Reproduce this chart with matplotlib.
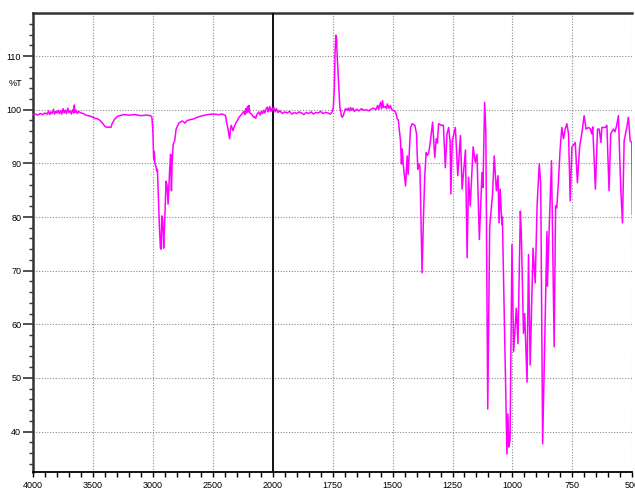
import numpy as np
import matplotlib
matplotlib.use("Agg")
import matplotlib.pyplot as plt
from matplotlib.ticker import FixedLocator

plt.rcParams["font.family"] = ["Liberation Sans", "DejaVu Sans"]

# (wavenumber cm-1, %T)
region_4000_2000 = [
    (4000, 99.1), (3980, 99.2), (3960, 99.0), (3940, 99.3), (3920, 99.1), (3900, 99.4),
    (3880, 99.2), (3870, 99.8), (3860, 99.1), (3850, 99.6), (3840, 99.3), (3830, 100.1),
    (3820, 99.2), (3810, 99.7), (3800, 99.4), (3790, 99.9), (3780, 99.3), (3770, 99.8),
    (3760, 99.2), (3750, 100.2), (3740, 99.4), (3730, 99.9), (3720, 99.3), (3710, 100.3),
    (3700, 99.5), (3690, 99.8), (3680, 99.2), (3670, 100.0), (3660, 99.4), (3655, 100.9),
    (3650, 99.5), (3640, 99.9), (3630, 99.3), (3620, 99.7), (3600, 99.4), (3580, 99.3),
    (3560, 99.0), (3540, 98.9), (3520, 98.8), (3500, 98.6), (3480, 98.4), (3460, 98.3),
    (3440, 98.0), (3420, 97.5), (3400, 96.9), (3380, 96.7), (3360, 96.8), (3350, 96.7),
    (3340, 97.4), (3320, 98.2), (3300, 98.7), (3280, 98.9), (3260, 99.0), (3240, 99.1),
    (3200, 99.0), (3150, 99.1), (3100, 98.9), (3050, 99.0), (3020, 98.9), (3008, 98.6),
    (3000, 96.0), (2993, 90.8), (2988, 92.2), (2983, 90.0), (2975, 89.5), (2968, 88.6),
    (2962, 88.9), (2953, 83.0), (2945, 78.0), (2937, 74.2), (2931, 74.0), (2926, 80.2),
    (2920, 80.0), (2914, 77.0), (2910, 74.2), (2900, 80.0), (2890, 86.7), (2882, 86.0),
    (2873, 82.4), (2864, 87.0), (2859, 89.2), (2852, 91.7), (2845, 84.9), (2840, 90.0),
    (2830, 93.6), (2818, 94.2), (2806, 96.4), (2784, 97.5), (2756, 97.9), (2740, 97.7),
    (2734, 97.5), (2714, 98.0), (2680, 98.2), (2659, 98.3), (2630, 98.6), (2603, 98.8),
    (2547, 99.1), (2500, 99.2), (2450, 99.1), (2420, 99.2), (2400, 99.0), (2393, 98.9),
    (2385, 97.6), (2379, 97.1), (2370, 96.0), (2360, 94.6), (2352, 96.5), (2346, 97.1),
    (2332, 96.1), (2322, 96.8), (2310, 97.4), (2295, 98.0), (2282, 98.6), (2265, 99.0),
    (2254, 99.3), (2240, 99.7), (2232, 99.1), (2225, 100.2), (2218, 99.4), (2210, 100.6),
    (2204, 99.6), (2198, 100.8), (2192, 99.5), (2184, 99.3), (2170, 99.0), (2160, 98.6),
    (2150, 98.7), (2142, 98.4), (2130, 99.2), (2117, 99.6), (2105, 99.0), (2095, 99.7),
    (2085, 99.3), (2075, 99.9), (2065, 99.4), (2055, 100.2), (2044, 100.5), (2038, 99.6),
    (2033, 99.8), (2025, 100.6), (2015, 99.7), (2005, 100.3), (2000, 100.0),
]

region_2000_1480 = [
    (1995, 100.4), (1990, 99.6), (1985, 100.2), (1978, 99.5), (1970, 99.8), (1960, 99.3),
    (1950, 99.6), (1940, 99.4), (1930, 99.7), (1920, 99.2), (1910, 99.5), (1900, 99.3),
    (1890, 99.6), (1880, 99.4), (1870, 99.1), (1860, 99.5), (1850, 99.3), (1840, 99.6),
    (1830, 99.2), (1820, 99.5), (1810, 99.4), (1800, 99.7), (1790, 99.3), (1780, 99.5),
    (1770, 99.4), (1760, 99.2), (1752, 99.6), (1747, 100.5), (1743, 104.0), (1740, 110.5),
    (1737, 113.9), (1734, 113.5), (1731, 110.0), (1728, 107.4), (1724, 104.0), (1720, 100.5),
    (1717, 99.9), (1713, 98.8), (1710, 98.6), (1705, 99.0), (1700, 99.8), (1696, 100.2),
    (1690, 99.9), (1685, 100.3), (1680, 99.8), (1675, 100.4), (1670, 99.9), (1665, 100.3),
    (1660, 99.7), (1650, 100.1), (1640, 99.8), (1630, 100.2), (1620, 99.9), (1610, 100.0),
    (1600, 99.8), (1590, 100.1), (1580, 100.3), (1570, 100.0), (1562, 100.8), (1558, 100.1),
    (1550, 101.4), (1546, 100.2), (1542, 101.7), (1538, 100.4), (1530, 100.6), (1525, 100.2),
    (1522, 101.1), (1515, 100.3), (1509, 100.8), (1505, 100.2), (1501, 99.9), (1495, 99.9),
    (1487, 99.5), (1481, 98.4),
]

region_1480_500 = [
    (1476, 98.0), (1467, 94.2), (1463, 89.9), (1460, 92.7), (1456, 90.0), (1449, 87.1),
    (1446, 85.8), (1439, 91.4), (1435, 88.0), (1425, 96.7), (1418, 97.4), (1407, 97.1),
    (1400, 95.5), (1395, 88.9), (1391, 89.9), (1386, 89.5), (1377, 69.6), (1371, 80.0),
    (1366, 87.4), (1360, 92.0), (1355, 91.5), (1349, 92.0), (1342, 94.2), (1333, 97.7),
    (1324, 91.1), (1318, 94.6), (1313, 93.8), (1308, 97.4), (1296, 97.1), (1288, 97.1),
    (1280, 89.2), (1273, 95.5), (1266, 96.7), (1260, 94.0), (1257, 84.3), (1251, 94.2),
    (1238, 96.7), (1228, 87.7), (1217, 95.2), (1210, 85.2), (1196, 92.5), (1189, 72.4),
    (1183, 87.4), (1176, 82.1), (1164, 93.1), (1155, 90.2), (1148, 91.7), (1138, 75.8),
    (1127, 88.3), (1123, 85.5), (1116, 101.4), (1111, 96.0), (1103, 44.2), (1095, 78.0),
    (1083, 84.3), (1076, 91.4), (1067, 84.9), (1060, 87.7), (1056, 78.9), (1051, 85.2),
    (1044, 78.6), (1042, 80.0), (1026, 43.0), (1023, 35.8), (1019, 43.3), (1015, 37.1),
    (1010, 38.5), (1002, 74.9), (995, 54.9), (984, 63.0), (977, 56.4), (967, 81.1),
    (963, 77.0), (954, 58.3), (949, 62.0), (939, 49.2), (933, 73.0), (926, 52.4),
    (914, 74.2), (905, 67.7), (897, 82.4), (888, 89.9), (882, 86.1), (874, 37.7),
    (856, 77.3), (854, 67.1), (846, 78.9), (837, 90.5), (826, 55.8), (820, 82.1),
    (815, 81.7), (808, 86.7), (801, 92.7), (794, 96.7), (787, 94.6), (780, 96.4),
    (773, 97.4), (766, 95.5), (759, 83.0), (752, 93.0), (738, 93.9), (729, 86.4),
    (720, 93.0), (710, 95.8), (701, 98.9), (693, 96.4), (683, 96.7), (676, 96.5),
    (669, 95.5), (665, 96.8), (654, 85.2), (645, 96.4), (638, 96.4), (631, 93.9),
    (627, 96.7), (613, 96.7), (606, 97.1), (597, 84.9), (590, 95.5), (579, 96.4),
    (572, 95.9), (565, 97.1), (558, 98.9), (548, 85.2), (541, 78.9), (534, 94.2),
    (523, 96.7), (516, 98.6), (509, 94.2), (502, 93.9), (500, 80.5),
]

x_major = [4000, 3500, 3000, 2500, 2000, 1750, 1500, 1250, 1000, 750, 500]
y_major = [40, 50, 60, 70, 80, 90, 100, 110]

points = region_4000_2000 + region_2000_1480 + region_1480_500
wn = np.array([p[0] for p in points], dtype=float)
pct = np.array([p[1] for p in points], dtype=float)


# x scale is doubled below 2000 cm-1 (usual IR chart break)
def fwd(x):
    x = np.asarray(x, dtype=float)
    return np.where(x >= 2000, x, 2 * x - 2000)


def inv(y):
    y = np.asarray(y, dtype=float)
    return np.where(y >= 2000, y, (y + 2000) / 2)


fig = plt.figure(figsize=(6.35, 4.9), dpi=100)
ax = fig.add_axes([33 / 635, 1 - 472.3 / 490, (632.3 - 33) / 635, (472.3 - 12.7) / 490])
ax.set_xscale("function", functions=(fwd, inv))
ax.set_xlim(4000, 500)
ax.set_ylim(32.4, 118.1)

ax.xaxis.set_major_locator(FixedLocator(x_major))
x_minor = list(range(3900, 2000, -100)) + list(range(1950, 500, -50))
ax.xaxis.set_minor_locator(FixedLocator(x_minor))
ax.set_xticklabels([str(v) for v in x_major])
ax.yaxis.set_major_locator(FixedLocator(y_major))
ax.yaxis.set_minor_locator(FixedLocator(list(range(34, 118, 2))))

ax.grid(True, which="major", linestyle=(0, (1, 1.5)), color="#8a8a8a", linewidth=0.8)
ax.axvline(2000, color="black", linewidth=1.3, zorder=3)

ax.plot(wn, pct, color="#ff00ff", linewidth=1.1, zorder=4)

ax.tick_params(axis="x", which="both", direction="out", length=3.5, width=1.0,
               labelsize=6.5, pad=2.5, color="black")
ax.tick_params(axis="y", which="major", direction="out", length=7, width=1.2,
               labelsize=6.5, pad=1.5, color="#333333")
ax.tick_params(axis="y", which="minor", direction="out", length=3, width=1.0, color="#333333")

ax.spines["top"].set_linewidth(1.8)
ax.spines["top"].set_color("#333333")
ax.spines["left"].set_linewidth(1.8)
ax.spines["left"].set_color("#333333")
ax.spines["bottom"].set_linewidth(1.3)
ax.spines["bottom"].set_color("black")
ax.spines["right"].set_visible(False)

fig.text(15 / 635, 1 - 83 / 490, "%T", ha="center", va="center", fontsize=6.5)

fig.savefig("out.png", dpi=100)
